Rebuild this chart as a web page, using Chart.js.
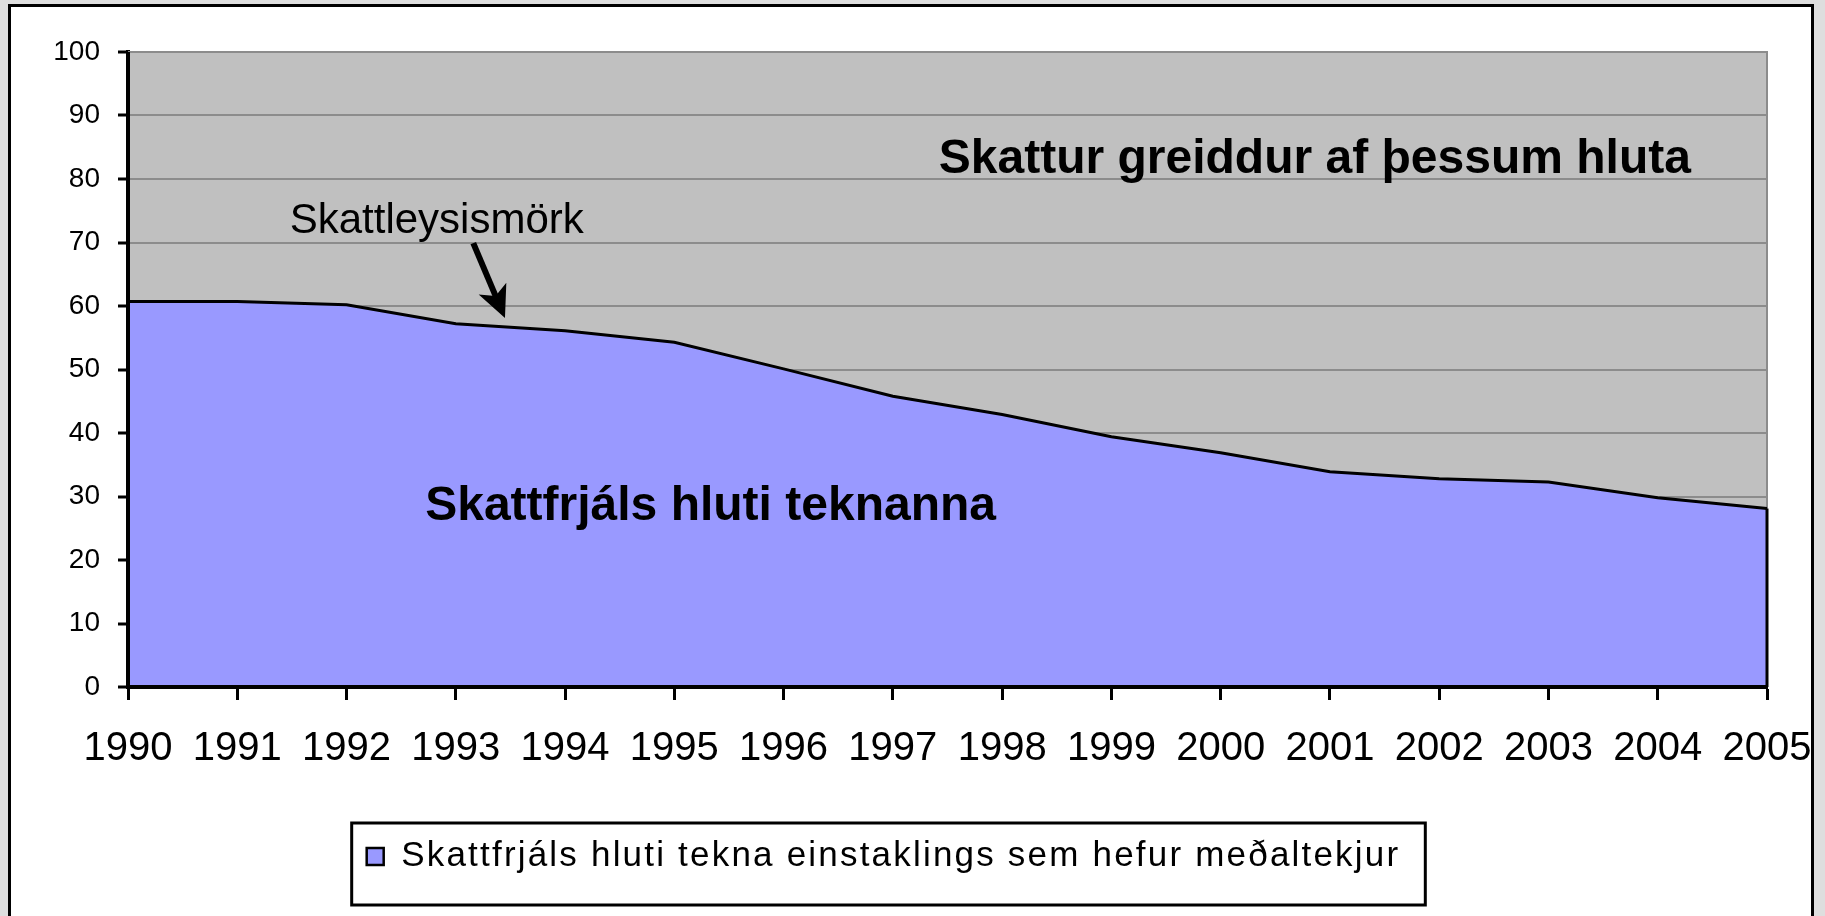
<!DOCTYPE html>
<html>
<head>
<meta charset="utf-8">
<script src="https://cdn.jsdelivr.net/npm/chart.js@4/dist/chart.umd.min.js"></script>
<style>
body { margin:0; background:#dedede; }
canvas { display:block; }
</style>
</head>
<body>
<canvas id="graf" width="1825" height="916"></canvas>
<script>
// gogn lesin af myndinni
var ar = ['1990','1991','1992','1993','1994','1995','1996','1997','1998','1999','2000','2001','2002','2003','2004','2005'];
var skattfrjals = [60.7, 60.7, 60.2, 57.2, 56.1, 54.3, 50.1, 45.8, 42.9, 39.4, 36.9, 33.9, 32.8, 32.3, 29.8, 28.1];
var heiti = 'Skattfrjáls hluti tekna einstaklings sem hefur meðaltekjur';
var yMin = 0, yMax = 100, yStep = 10;

var letur = "'Liberation Sans', Arial, sans-serif";
Chart.defaults.font.family = letur;
Chart.defaults.color = '#000';

// textar inni i grafinu, stadsettir i gildum asanna
var textar = [
  { texti: 'Skattur greiddur af þessum hluta', x: 7.42, y: 80.9, font: 'bold 48px ' + letur },
  { texti: 'Skattfrjáls hluti teknanna', x: 2.72, y: 26.3, font: 'bold 48px ' + letur },
  { texti: 'Skattleysismörk', x: 1.48, y: 71.5, font: '42px ' + letur }
];
var or = { fra: [3.16, 69.9], til: [3.45, 58.1] };

function px(chart, x, y) {
  var sx = chart.scales.x, sy = chart.scales.y;
  var x0 = sx.getPixelForValue(Math.floor(x)), x1 = sx.getPixelForValue(Math.floor(x) + 1);
  return [x0 + (x1 - x0) * (x - Math.floor(x)), sy.getPixelForValue(y)];
}

var ramma = {
  id: 'ramma',
  beforeDraw: function(chart) {
    var ctx = chart.ctx, a = chart.chartArea;
    ctx.save();
    ctx.fillStyle = '#dedede';
    ctx.fillRect(0, 0, chart.width, chart.height);
    ctx.fillStyle = '#fff';
    ctx.fillRect(9.5, 5.5, 1803, 1000);
    ctx.lineWidth = 3;
    ctx.strokeStyle = '#000';
    ctx.strokeRect(9.5, 5.5, 1803, 1000);
    ctx.fillStyle = '#c0c0c0';
    ctx.fillRect(a.left, a.top, a.right - a.left, a.bottom - a.top);
    ctx.restore();
  },
  beforeDatasetsDraw: function(chart) {
    var ctx = chart.ctx, a = chart.chartArea;
    ctx.save();
    ctx.strokeStyle = '#8c8c8c';
    ctx.lineWidth = 2;
    ctx.beginPath();
    ctx.moveTo(a.left, a.top);
    ctx.lineTo(a.right, a.top);
    ctx.lineTo(a.right, a.bottom);
    ctx.stroke();
    ctx.restore();
  },
  afterDatasetsDraw: function(chart) {
    var ctx = chart.ctx, a = chart.chartArea;
    var sy = chart.scales.y;
    ctx.save();
    // haegri brun svaedisins
    ctx.strokeStyle = '#000';
    ctx.lineWidth = 3;
    ctx.beginPath();
    ctx.moveTo(a.right, sy.getPixelForValue(skattfrjals[skattfrjals.length - 1]));
    ctx.lineTo(a.right, a.bottom);
    ctx.stroke();
    // asar
    ctx.lineWidth = 4;
    ctx.beginPath();
    ctx.moveTo(a.left, a.top);
    ctx.lineTo(a.left, a.bottom);
    ctx.lineTo(a.right, a.bottom);
    ctx.stroke();
    // textar
    ctx.fillStyle = '#000';
    ctx.textBaseline = 'alphabetic';
    ctx.textAlign = 'left';
    textar.forEach(function(t) {
      var p = px(chart, t.x, t.y);
      ctx.font = t.font;
      ctx.fillText(t.texti, p[0], p[1]);
    });
    // or
    var p0 = px(chart, or.fra[0], or.fra[1]), p1 = px(chart, or.til[0], or.til[1]);
    var dx = p1[0] - p0[0], dy = p1[1] - p0[1], l = Math.sqrt(dx * dx + dy * dy);
    var ux = dx / l, uy = dy / l;
    ctx.lineWidth = 6;
    ctx.beginPath();
    ctx.moveTo(p0[0], p0[1]);
    ctx.lineTo(p1[0] - ux * 22, p1[1] - uy * 22);
    ctx.stroke();
    ctx.beginPath();
    ctx.moveTo(p1[0], p1[1]);
    ctx.lineTo(p1[0] - ux * 32 - uy * 15, p1[1] - uy * 32 + ux * 15);
    ctx.lineTo(p1[0] - ux * 24, p1[1] - uy * 24);
    ctx.lineTo(p1[0] - ux * 32 + uy * 15, p1[1] - uy * 32 - ux * 15);
    ctx.closePath();
    ctx.fill();
    ctx.restore();
  },
  afterDraw: function(chart) {
    var hb = chart.legend.legendHitBoxes[0];
    if (!hb) return;
    var ctx = chart.ctx;
    ctx.save();
    ctx.strokeStyle = '#000';
    ctx.lineWidth = 3;
    ctx.strokeRect(hb.left - 15, hb.top - 16, hb.width + 40, 82);
    ctx.restore();
  }
};

var graf = new Chart(document.getElementById('graf'), {
  type: 'line',
  data: {
    labels: ar,
    datasets: [{
      label: heiti,
      data: skattfrjals,
      borderColor: '#000',
      borderWidth: 3,
      backgroundColor: '#9999ff',
      fill: 'origin',
      pointRadius: 0,
      tension: 0
    }]
  },
  options: {
    responsive: false,
    animation: false,
    layout: { padding: { top: 52, right: 58, bottom: 32, left: 0 } },
    plugins: {
      tooltip: { enabled: false },
      legend: {
        position: 'bottom',
        labels: {
          color: '#000',
          font: { size: 35 },
          boxWidth: 17,
          boxHeight: 17,
          padding: 10,
          generateLabels: function(chart) {
            var items = Chart.defaults.plugins.legend.labels.generateLabels(chart);
            items.forEach(function(i) { i.lineWidth = 2.5; });
            return items;
          }
        }
      }
    },
    scales: {
      x: {
        grid: { drawOnChartArea: false, drawTicks: true, tickLength: 13, tickWidth: 3, tickColor: '#000' },
        border: { color: '#000', width: 4 },
        ticks: { color: '#000', font: { size: 40 }, padding: 25, maxRotation: 0, autoSkip: false },
        afterFit: function(s) { s.height = 142; s.paddingLeft = 0; s.paddingRight = 0; }
      },
      y: {
        min: yMin,
        max: yMax,
        grid: { color: '#8c8c8c', lineWidth: 2, tickLength: 10, tickWidth: 3, tickColor: '#000' },
        border: { color: '#000', width: 4 },
        ticks: { stepSize: yStep, color: '#000', font: { size: 28 }, padding: 18 },
        afterFit: function(s) { s.width = 128; s.paddingTop = 0; s.paddingBottom = 0; }
      }
    }
  },
  plugins: [ramma]
});

// Excel teygir a skyringartextanum, sma bil milli stafa
var lg = graf.legend;
['fit', 'draw'].forEach(function(m) {
  var f = lg[m];
  lg[m] = function() {
    this.ctx.save();
    this.ctx.letterSpacing = '2.2px';
    f.apply(this, arguments);
    this.ctx.restore();
  };
});
graf.update();
</script>
</body>
</html>
